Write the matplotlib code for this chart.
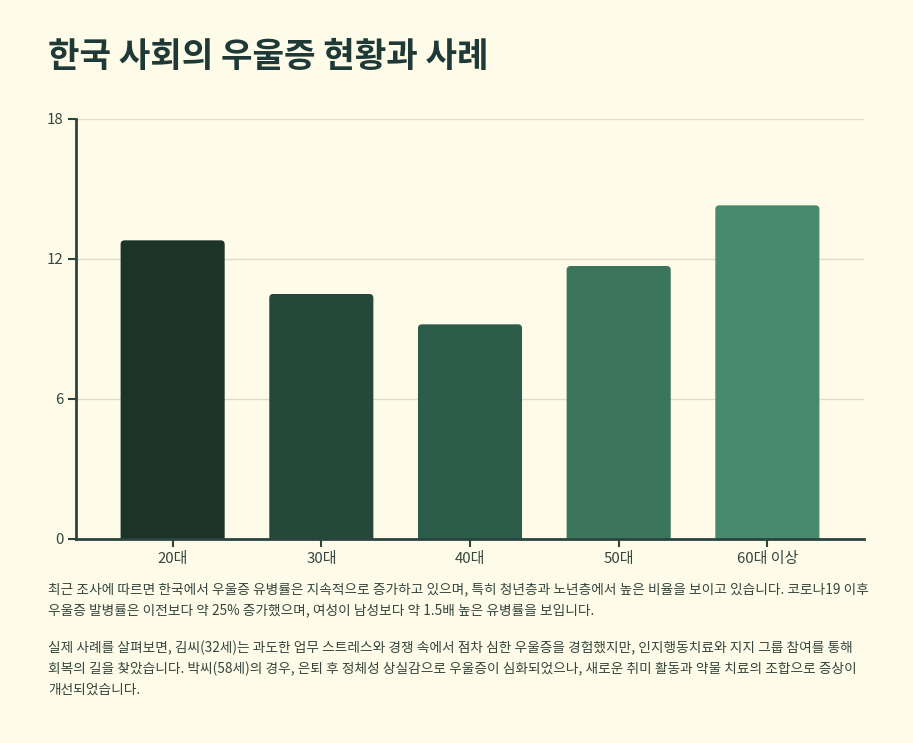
import matplotlib
matplotlib.use("Agg")
import matplotlib.pyplot as plt
from matplotlib.patches import FancyBboxPatch

plt.rcParams['font.family'] = ['Noto Sans CJK KR', 'DejaVu Sans']

categories = ["20대", "30대", "40대", "50대", "60대 이상"]
values = [12.8, 10.5, 9.2, 11.7, 14.3]
bar_colors = ["#1b3328", "#24493a", "#2e5c4a", "#3b755c", "#478a6e"]
y_ticks = [0, 6, 12, 18]
title = "한국 사회의 우울증 현황과 사례"
para1 = ["최근 조사에 따르면 한국에서 우울증 유병률은 지속적으로 증가하고 있으며, 특히 청년층과 노년층에서 높은 비율을 보이고 있습니다. 코로나19 이후",
         "우울증 발병률은 이전보다 약 25% 증가했으며, 여성이 남성보다 약 1.5배 높은 유병률을 보입니다."]
para2 = ["실제 사례를 살펴보면, 김씨(32세)는 과도한 업무 스트레스와 경쟁 속에서 점차 심한 우울증을 경험했지만, 인지행동치료와 지지 그룹 참여를 통해",
         "회복의 길을 찾았습니다. 박씨(58세)의 경우, 은퇴 후 정체성 상실감으로 우울증이 심화되었으나, 새로운 취미 활동과 약물 치료의 조합으로 증상이",
         "개선되었습니다."]

BG = "#fefce8"
W, H = 913, 743
fig = plt.figure(figsize=(W/100, H/100), dpi=100, facecolor=BG)
ax = fig.add_axes([76/W, 1-539/H, (864-76)/W, (539-119)/H], facecolor=BG)

xmin, xmax = -0.65, len(categories) - 1 + 0.65
ymin, ymax = 0, 18
ax.set_xlim(xmin, xmax)
ax.set_ylim(ymin, ymax)

bars = ax.bar(range(len(categories)), values, width=0.7, color=bar_colors)
px_x = (864-76) / (xmax - xmin)
px_y = (539-119) / (ymax - ymin)
r_px = 4
for b in bars:
    x, w, h = b.get_x(), b.get_width(), b.get_height()
    c = b.get_facecolor()
    b.set_visible(False)
    p = FancyBboxPatch((x, -0.5), w, h + 0.5,
                       boxstyle=f"round,pad=0,rounding_size={r_px/px_x}",
                       mutation_aspect=px_x/px_y, facecolor=c, edgecolor='none', zorder=2)
    ax.add_patch(p)

ax.set_yticks(y_ticks)
ax.set_yticklabels([str(t) for t in y_ticks])
ax.set_xticks(range(len(categories)))
ax.set_xticklabels(categories)
ax.grid(axis='y', color='#dcdccb', linewidth=1, zorder=0)
ax.set_axisbelow(True)
for s in ['top', 'right']:
    ax.spines[s].set_visible(False)
axis_col = "#2b4440"
for s in ['left', 'bottom']:
    ax.spines[s].set_color(axis_col)
    ax.spines[s].set_linewidth(2)
ax.tick_params(axis='both', colors=axis_col, length=6, width=1.5, labelsize=10.8, labelcolor="#34463f", pad=3)
for lab in ax.get_xticklabels() + ax.get_yticklabels():
    lab.set_fontweight('light')

fig.text(48/W, 1-57/H, title, fontsize=24.7, fontweight='bold', color="#1f3a36", va='center', ha='left')

text_col = "#34463f"
ys1 = [589, 610]
for line, y in zip(para1, ys1):
    fig.text(48/W, 1-y/H, line, fontsize=9.85, color=text_col, va='center', ha='left')
ys2 = [648, 669, 690]
for line, y in zip(para2, ys2):
    fig.text(48/W, 1-y/H, line, fontsize=9.85, color=text_col, va='center', ha='left')

fig.savefig("out.png", dpi=100, facecolor=BG)
